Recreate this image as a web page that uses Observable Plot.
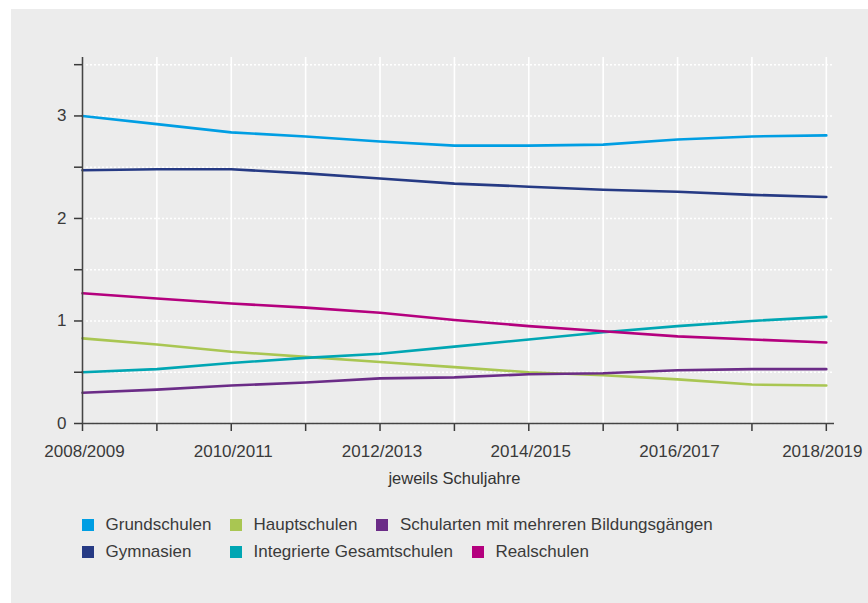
<!DOCTYPE html>
<html>
<head>
<meta charset="utf-8">
<script src="https://cdn.jsdelivr.net/npm/d3@7"></script>
<script src="https://cdn.jsdelivr.net/npm/@observablehq/plot@0.6"></script>
<style>
  html, body { margin: 0; padding: 0; background: #ffffff; }
  body { width: 868px; height: 603px; position: relative; overflow: hidden; font-family: "Liberation Sans", Arial, sans-serif; }
  #panel { position: absolute; left: 11px; top: 9px; right: 0; bottom: 0; background: #ececec; }
  #chart { position: absolute; left: 0; top: 0; }
  #legend { position: absolute; left: 82px; top: 511px; font-size: 17px; color: #3a3a3a; }
  .row { display: flex; align-items: center; height: 27px; white-space: nowrap; }
  .item { display: flex; align-items: center; }
  .item.first { width: 148px; }
  .item.second { margin-right: 19px; }
  .sw { width: 12px; height: 12px; margin-right: 11.5px; flex: none; }
</style>
</head>
<body>
<div id="panel"></div>
<div id="chart"></div>
<div id="legend"></div>
<script>
const years = ["2008/2009","2009/2010","2010/2011","2011/2012","2012/2013","2013/2014","2014/2015","2015/2016","2016/2017","2017/2018","2018/2019"];
const seriesNames = ["Grundschulen","Gymnasien","Hauptschulen","Integrierte Gesamtschulen","Schularten mit mehreren Bildungsgängen","Realschulen"];
const seriesColors = ["#009ee3","#263a84","#a9c652","#00a6b3","#6b2c87","#b4007e"];
const grundschulen = [3.00,2.92,2.84,2.80,2.75,2.71,2.71,2.72,2.77,2.80,2.81];
const gymnasien = [2.47,2.48,2.48,2.44,2.39,2.34,2.31,2.28,2.26,2.23,2.21];
const hauptschulen = [0.83,0.77,0.70,0.65,0.60,0.55,0.50,0.47,0.43,0.38,0.37];
const gesamtschulen = [0.50,0.53,0.59,0.64,0.68,0.75,0.82,0.89,0.95,1.00,1.04];
const mehrereBildungsgaenge = [0.30,0.33,0.37,0.40,0.44,0.45,0.48,0.49,0.52,0.53,0.53];
const realschulen = [1.27,1.22,1.17,1.13,1.08,1.01,0.95,0.90,0.85,0.82,0.79];
const yTicks = [0,0.5,1,1.5,2,2.5,3,3.5];
const xTitle = "jeweils Schuljahre";
const legendRows = [
  ["Grundschulen","Hauptschulen","Schularten mit mehreren Bildungsgängen"],
  ["Gymnasien","Integrierte Gesamtschulen","Realschulen"]
];

const seriesValues = [grundschulen, gymnasien, hauptschulen, gesamtschulen, mehrereBildungsgaenge, realschulen];
const rows = [];
seriesNames.forEach((name, s) => {
  seriesValues[s].forEach((v, i) => rows.push({series: name, i, year: years[i], value: v}));
});
const idx = d3.range(years.length);
const lastIdx = years.length - 1;
const labelIdx = idx.filter(i => i % 2 === 0 && i !== lastIdx);

const chart = Plot.plot({
  width: 868,
  height: 500,
  marginLeft: 82,
  marginRight: 34,
  marginTop: 57,
  marginBottom: 77,
  style: {background: "transparent", fontFamily: "'Liberation Sans', Arial, sans-serif", fontSize: "17px", color: "#333"},
  x: {domain: [0, 10.11]},
  y: {domain: [0, 3.57]},
  color: {domain: seriesNames, range: seriesColors},
  marks: [
    Plot.gridY(yTicks, {stroke: "#ffffff", strokeOpacity: 1, strokeWidth: 1.6, strokeDasharray: "2,2"}),
    Plot.gridX(idx, {stroke: "#ffffff", strokeOpacity: 1, strokeWidth: 1.6}),
    Plot.lineY(rows, {x: "i", y: "value", stroke: "series", strokeWidth: 2.6}),
    Plot.axisY(yTicks, {tickSize: 8, tickPadding: 8, tickFormat: d => Number.isInteger(d) ? String(d) : "", color: "#3a3a3a", fontSize: 17, label: null, strokeWidth: 1.5}),
    Plot.axisX(idx, {tickSize: 8, text: null, label: null, color: "#3a3a3a", strokeWidth: 1.5}),
    Plot.text(labelIdx, {x: d => d, frameAnchor: "bottom", lineAnchor: "top", dy: 21, dx: 2, text: d => years[d], fontSize: 17, fill: "#3a3a3a"}),
    Plot.text([lastIdx], {x: d => d, frameAnchor: "bottom", lineAnchor: "top", dy: 21, dx: -4, text: d => years[d], fontSize: 17, fill: "#3a3a3a"}),
    Plot.ruleX([0], {stroke: "#444", strokeWidth: 1.6}),
    Plot.ruleY([0], {stroke: "#444", strokeWidth: 1.6}),
    Plot.text([xTitle], {x: () => 5, frameAnchor: "bottom", lineAnchor: "middle", dy: 55, text: d => d, fontSize: 16.5, fill: "#333"})
  ]
});
document.getElementById("chart").appendChild(chart);

const legend = document.getElementById("legend");
legendRows.forEach(r => {
  const row = document.createElement("div");
  row.className = "row";
  r.forEach((name, k) => {
    const item = document.createElement("div");
    item.className = "item" + (k === 0 ? " first" : k === 1 ? " second" : "");
    const sw = document.createElement("span");
    sw.className = "sw";
    sw.style.background = seriesColors[seriesNames.indexOf(name)];
    const t = document.createElement("span");
    t.textContent = name;
    item.appendChild(sw);
    item.appendChild(t);
    row.appendChild(item);
  });
  legend.appendChild(row);
});
</script>
</body>
</html>
